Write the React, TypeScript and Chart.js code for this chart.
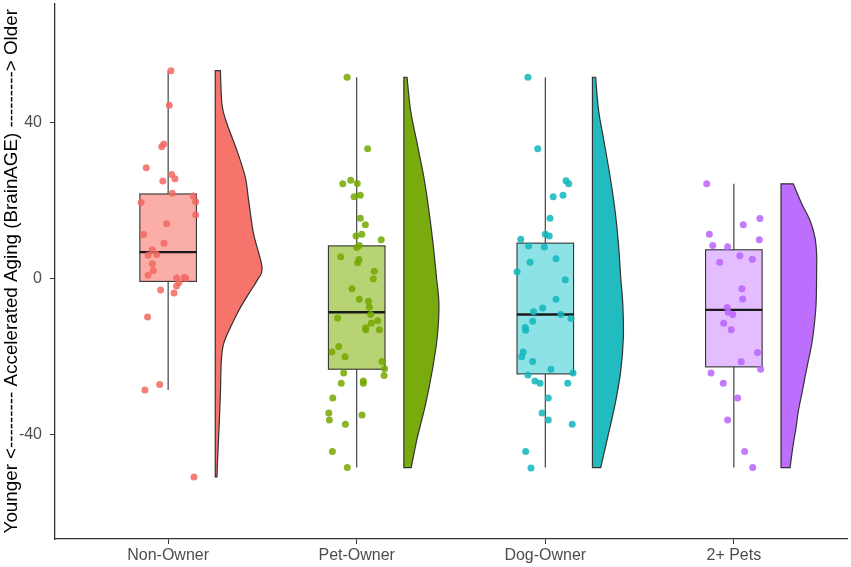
import React, { useEffect, useRef } from "react";
import { Chart, registerables } from "chart.js";

Chart.register(...registerables);

const categories = ["Non-Owner", "Pet-Owner", "Dog-Owner", "2+ Pets"];
const yTicks = [-40, 0, 40];
const yTitle = "Younger <--------- Accelerated Aging (BrainAGE) ---------> Older";

// BrainAGE values per group, with the horizontal jitter
const nonOwnerValues = [53.3, 44.4, 34.5, 33.8, 28.4, 25.0, 26.7, 25.6, 21.9, 21.2, 19.7, 16.4, 19.5, 14.1, 11.3, 9.1, 7.4, 6.0, 6.2, 3.8, 2.1, 0.9, 0.2, 0.3, 0.1, -1.0, -1.9, -2.9, -3.7, -9.8, -27.1, -28.5, -50.8];
const nonOwnerJitter = [0.015, 0.006, -0.023, -0.034, -0.116, -0.028, 0.019, 0.036, 0.022, 0.133, 0.146, 0.146, -0.143, -0.008, -0.13, -0.022, -0.084, -0.106, -0.061, -0.084, -0.079, -0.107, 0.045, 0.085, 0.093, 0.057, 0.045, -0.04, 0.031, -0.109, -0.045, -0.123, 0.137];

const petOwnerValues = [51.6, 33.3, 24.3, 25.2, 24.4, 21.0, 21.4, 15.5, 13.8, 10.9, 11.4, 10.0, 8.0, 8.5, 5.6, 4.9, 4.1, 1.9, -0.1, -2.6, -5.3, -5.8, -7.3, -9.2, -10.1, -11.4, -10.8, -12.6, -13.1, -13.1, -17.4, -18.8, -20.0, -21.2, -23.1, -24.8, -24.2, -26.8, -26.2, -26.8, -30.6, -34.4, -36.2, -34.9, -37.3, -44.3, -48.4];
const petOwnerJitter = [-0.051, 0.058, -0.074, -0.032, 0.003, -0.014, 0.019, 0.019, 0.046, -0.004, 0.027, 0.13, 0.0, 0.014, -0.085, 0.012, 0.005, 0.093, 0.088, -0.025, 0.014, 0.062, 0.067, 0.074, -0.101, 0.077, 0.111, 0.048, 0.048, 0.12, -0.095, -0.131, -0.062, 0.134, 0.148, 0.145, -0.069, -0.082, 0.035, 0.035, -0.127, -0.148, -0.145, 0.028, -0.06, -0.129, -0.05];

const dogOwnerValues = [51.6, 33.3, 25.1, 24.3, 21.0, 21.4, 15.5, 11.4, 10.9, 10.1, 8.4, 8.1, 4.2, 5.1, 1.8, -0.3, -5.3, -7.5, -8.5, -9.2, -10.2, -10.9, -12.5, -13.2, -18.8, -20.0, -21.2, -23.2, -24.2, -24.7, -26.2, -26.8, -26.8, -30.6, -34.4, -36.2, -37.3, -44.3, -48.5];
const dogOwnerJitter = [-0.092, -0.04, 0.11, 0.124, 0.042, 0.094, 0.025, 0.0, 0.021, -0.13, -0.088, -0.005, -0.081, 0.057, -0.15, 0.106, 0.057, -0.014, -0.062, 0.083, 0.136, -0.067, -0.106, -0.104, -0.117, -0.125, -0.067, 0.03, 0.147, -0.092, -0.055, -0.028, 0.119, 0.016, -0.017, 0.016, 0.143, -0.104, -0.076];

const multiPetValues = [24.3, 13.8, 15.4, 11.4, 8.5, 8.2, 10.0, 4.2, 5.9, 5.0, -2.6, -5.2, -7.4, -8.6, -9.2, -11.4, -13.1, -18.9, -21.3, -24.2, -23.2, -26.8, -30.6, -36.2, -44.3, -48.4];
const multiPetJitter = [-0.144, 0.05, 0.138, -0.13, -0.112, -0.033, 0.135, -0.075, 0.032, 0.098, 0.043, 0.047, -0.035, -0.03, -0.006, -0.054, -0.014, 0.126, 0.039, -0.121, 0.142, -0.056, 0.02, -0.033, 0.057, 0.1];

// box summaries: whisker low, q1, median, q3, whisker high
const whiskerLow = [-28.5, -48.4, -48.4, -48.4];
const lowerQuartile = [-0.7, -23.2, -24.4, -22.6];
const medians = [6.8, -8.6, -9.2, -8.0];
const upperQuartile = [21.7, 8.4, 9.1, 7.4];
const whiskerHigh = [53.3, 51.6, 51.6, 24.3];

// half-violin outline: y levels and density width (in category units)
const nonOwnerViolinY = [53.3, 44.4, 39.7, 32.8, 26.0, 20.0, 11.5, 2.9, -0.5, -3.9, -8.2, -12.5, -16.7, -21.0, -29.6, -38.1, -46.7, -50.8];
const nonOwnerViolinW = [0.027, 0.036, 0.062, 0.115, 0.159, 0.177, 0.203, 0.248, 0.221, 0.177, 0.124, 0.08, 0.044, 0.032, 0.027, 0.02, 0.012, 0.009];
const petOwnerViolinY = [51.6, 43.0, 34.5, 26.0, 17.4, 8.9, 0.3, -6.5, -15.0, -23.7, -32.2, -40.8, -48.4];
const petOwnerViolinW = [0.017, 0.036, 0.071, 0.106, 0.133, 0.155, 0.173, 0.186, 0.177, 0.15, 0.115, 0.071, 0.039];
const dogOwnerViolinY = [51.6, 43.0, 34.5, 26.0, 17.4, 8.9, 0.3, -6.5, -15.0, -23.7, -32.2, -40.8, -48.4];
const dogOwnerViolinW = [0.017, 0.033, 0.064, 0.094, 0.12, 0.138, 0.15, 0.161, 0.164, 0.15, 0.12, 0.08, 0.044];
const multiPetViolinY = [24.3, 19.2, 14.9, 10.6, 6.3, 2.0, -6.5, -12.5, -16.7, -21.0, -25.3, -29.6, -33.9, -38.1, -42.4, -48.4];
const multiPetViolinW = [0.065, 0.11, 0.154, 0.18, 0.189, 0.189, 0.186, 0.175, 0.163, 0.145, 0.127, 0.11, 0.092, 0.08, 0.065, 0.048];

const groupValues = [nonOwnerValues, petOwnerValues, dogOwnerValues, multiPetValues];
const groupJitter = [nonOwnerJitter, petOwnerJitter, dogOwnerJitter, multiPetJitter];
const violinY = [nonOwnerViolinY, petOwnerViolinY, dogOwnerViolinY, multiPetViolinY];
const violinW = [nonOwnerViolinW, petOwnerViolinW, dogOwnerViolinW, multiPetViolinW];

const colors = ["#F6746C", "#7AAB0E", "#22BCC0", "#BD6EFC"];
const pointColors = ["rgba(242,104,98,0.85)", "rgba(118,168,0,0.85)", "rgba(16,182,188,0.85)", "rgba(185,100,250,0.85)"];
const boxFills = ["rgba(248,118,109,0.6)", "rgba(124,174,0,0.55)", "rgba(0,191,196,0.45)", "rgba(199,124,255,0.5)"];

const BOX_HALF = 0.15;
const VIOLIN_NUDGE = 0.25;
const FONT = "'Liberation Sans', Arial, sans-serif";

const raincloud = {
  id: "raincloud",
  beforeDatasetsDraw(chart: any) {
    const { ctx } = chart;
    const xs = chart.scales.x;
    const ys = chart.scales.y;
    ctx.save();
    categories.forEach((_, g) => {
      const pos = g + 1;

      // half violin
      const left = xs.getPixelForValue(pos + VIOLIN_NUDGE);
      const pts = violinY[g].map((v, i) => ({
        x: xs.getPixelForValue(pos + VIOLIN_NUDGE + violinW[g][i]),
        y: ys.getPixelForValue(v),
      }));
      ctx.beginPath();
      ctx.moveTo(left, pts[0].y);
      ctx.lineTo(pts[0].x, pts[0].y);
      for (let i = 0; i < pts.length - 1; i++) {
        const p0 = pts[Math.max(i - 1, 0)];
        const p1 = pts[i];
        const p2 = pts[i + 1];
        const p3 = pts[Math.min(i + 2, pts.length - 1)];
        ctx.bezierCurveTo(
          p1.x + (p2.x - p0.x) / 6, p1.y + (p2.y - p0.y) / 6,
          p2.x - (p3.x - p1.x) / 6, p2.y - (p3.y - p1.y) / 6,
          p2.x, p2.y
        );
      }
      ctx.lineTo(left, pts[pts.length - 1].y);
      ctx.closePath();
      ctx.fillStyle = colors[g];
      ctx.fill();
      ctx.lineWidth = 1.2;
      ctx.strokeStyle = "#333333";
      ctx.stroke();

      // box and whiskers
      const cx = xs.getPixelForValue(pos);
      const bl = xs.getPixelForValue(pos - BOX_HALF);
      const br = xs.getPixelForValue(pos + BOX_HALF);
      const q1 = ys.getPixelForValue(lowerQuartile[g]);
      const q3 = ys.getPixelForValue(upperQuartile[g]);
      const med = ys.getPixelForValue(medians[g]);
      ctx.lineWidth = 1.1;
      ctx.strokeStyle = "#333333";
      ctx.beginPath();
      ctx.moveTo(cx, ys.getPixelForValue(whiskerHigh[g]));
      ctx.lineTo(cx, q3);
      ctx.moveTo(cx, q1);
      ctx.lineTo(cx, ys.getPixelForValue(whiskerLow[g]));
      ctx.stroke();
      ctx.fillStyle = boxFills[g];
      ctx.fillRect(bl, q3, br - bl, q1 - q3);
      ctx.strokeRect(bl, q3, br - bl, q1 - q3);
      ctx.beginPath();
      ctx.lineWidth = 2.4;
      ctx.strokeStyle = "#1a1a1a";
      ctx.moveTo(bl, med);
      ctx.lineTo(br, med);
      ctx.stroke();
    });
    ctx.restore();
  },
};

const App: React.FC = () => {
  const canvasRef = useRef<HTMLCanvasElement>(null);
  const chartRef = useRef<Chart>();

  useEffect(() => {
    document.body.style.margin = "0";
    if (!canvasRef.current) return;
    const ctx = canvasRef.current.getContext("2d");
    if (!ctx) return;
    if (chartRef.current) chartRef.current.destroy();

    chartRef.current = new Chart(ctx, {
      type: "scatter",
      data: {
        datasets: categories.map((label, g) => ({
          label,
          data: groupValues[g].map((v, i) => ({ x: g + 1 + groupJitter[g][i], y: v })),
          backgroundColor: pointColors[g],
          borderWidth: 0,
          pointRadius: 3.5,
          pointHoverRadius: 3.5,
        })),
      },
      options: {
        animation: false,
        responsive: false,
        maintainAspectRatio: false,
        layout: { padding: { left: 0, right: 4, top: 0, bottom: 0 } },
        plugins: {
          legend: { display: false },
          tooltip: { enabled: false },
        },
        scales: {
          x: {
            type: "linear",
            min: 0.4,
            max: 4.6,
            afterBuildTicks: (axis: any) => {
              axis.ticks = categories.map((_, i) => ({ value: i + 1 }));
            },
            afterFit: (axis: any) => {
              axis.height = 28;
              axis.paddingLeft = 0;
              axis.paddingRight = 0;
            },
            ticks: {
              autoSkip: false,
              maxRotation: 0,
              padding: 2,
              color: "#4d4d4d",
              font: { family: FONT, size: 16 },
              callback: (_v: any, i: number) => categories[i],
            },
            grid: { drawOnChartArea: false, drawTicks: true, tickLength: 5, color: "#333333", lineWidth: 1 },
            border: { display: true, color: "#333333", width: 1.3 },
          },
          y: {
            type: "linear",
            min: -66.7,
            max: 70.5,
            afterBuildTicks: (axis: any) => {
              axis.ticks = yTicks.map((v) => ({ value: v }));
            },
            afterFit: (axis: any) => {
              axis.width = 55;
              axis.paddingTop = 0;
              axis.paddingBottom = 0;
            },
            ticks: {
              padding: 8,
              color: "#4d4d4d",
              font: { family: FONT, size: 16 },
            },
            title: {
              display: true,
              text: yTitle,
              color: "#000000",
              font: { family: FONT, size: 18.8 },
              padding: { top: 1, bottom: 0 },
            },
            grid: { drawOnChartArea: false, drawTicks: true, tickLength: 5, color: "#333333", lineWidth: 1 },
            border: { display: true, color: "#333333", width: 1.3 },
          },
        },
      },
      plugins: [raincloud],
    });

    return () => {
      if (chartRef.current) {
        chartRef.current.destroy();
        chartRef.current = undefined;
      }
    };
  }, []);

  return (
    <div style={{ width: "851px", height: "567px", background: "#ffffff" }}>
      <canvas ref={canvasRef} width={851} height={567} style={{ width: "851px", height: "567px" }} />
    </div>
  );
};

export default App;
